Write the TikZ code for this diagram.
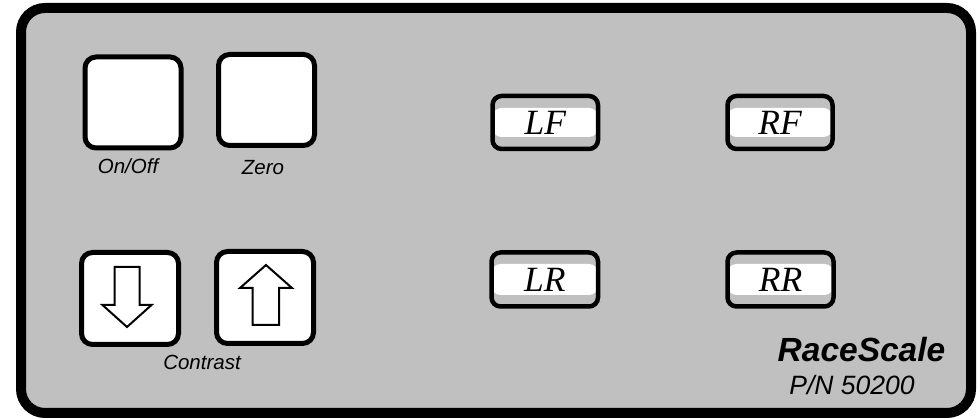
\documentclass[tikz,border=0pt]{standalone}
\usepackage{fontspec}
\setmainfont{Liberation Sans}
\newfontfamily\lserif{Liberation Serif}
\definecolor{panelgray}{HTML}{C0C0C0}
\tikzset{
  panelbox/.style={draw=black, line width=10pt, fill=panelgray, rounded corners=24pt},
  sqbtn/.style={draw=black, line width=5pt, fill=white, rounded corners=11pt, inner sep=0pt},
  wheelbtn/.style={draw=black, line width=4.5pt, fill=panelgray, rounded corners=9pt, inner sep=0pt,
    font=\lserif\itshape\fontsize{35.5}{38}\selectfont,
    path picture={\fill[white] ([yshift=#1]path picture bounding box.west) rectangle ([yshift=-#1]path picture bounding box.east);}},
  wheelbtn/.default=14.5pt,
  arrowline/.style={draw=black, line width=2pt, fill=white, line join=miter},
  lbl/.style={anchor=base, inner sep=0pt, font=\itshape\fontsize{20.5}{23}\selectfont},
}
\begin{document}
\begin{tikzpicture}[x=1pt,y=-1pt]
\useasboundingbox (0,0) rectangle (980,419);
\node[panelbox, minimum width=950pt, minimum height=405pt] (panel) at (496,210.5) {};
% square buttons
\node[sqbtn, minimum width=96pt, minimum height=91pt] (onoff) at (133,102.5) {};
\node[sqbtn, minimum width=96pt, minimum height=91pt] (zero) at (266.5,100) {};
\node[sqbtn, minimum width=97pt, minimum height=92pt] (down) at (130,298.5) {};
\node[sqbtn, minimum width=97pt, minimum height=92pt] (up) at (265,297.5) {};
% arrows
\draw[arrowline, shift={(down.center)}] (-15.5,-31.5) -- (9.5,-31.5) -- (9.5,6.5) -- (21.5,6.5) -- (-3,28.5) -- (-27.5,6.5) -- (-15.5,6.5) -- cycle;
\draw[arrowline, shift={(up.center)}] (1,-32.5) -- (27,-9.5) -- (14,-9.5) -- (14,27.5) -- (-12.5,27.5) -- (-12.5,-9.5) -- (-25,-9.5) -- cycle;
% labels
\node[lbl] (lonoff) at (128,173.3) {On/Off};
\node[lbl] (lzero) at (263,175) {Zero};
\node[lbl] (lcontrast) at (202,370) {Contrast};
% wheel buttons
\node[wheelbtn, minimum width=105.5pt, minimum height=53pt] (lf) at (545.25,122.5) {LF};
\node[wheelbtn, minimum width=105pt, minimum height=53pt] (rf) at (780,122.5) {RF};
\node[wheelbtn=15.5pt, minimum width=106.5pt, minimum height=54pt] (lr) at (544.75,279.5) {LR};
\node[wheelbtn=15.5pt, minimum width=106pt, minimum height=54pt] (rr) at (780.5,279.5) {RR};
% brand
\node[anchor=base, inner sep=0pt, font=\bfseries\itshape\fontsize{33.5}{36}\selectfont] (brand) at (861.5,361.7) {RaceScale};
\node[anchor=base, inner sep=0pt, font=\itshape\fontsize{26.5}{29}\selectfont] (pn) at (852,394.5) {P/N 50200};
\end{tikzpicture}
\end{document}
